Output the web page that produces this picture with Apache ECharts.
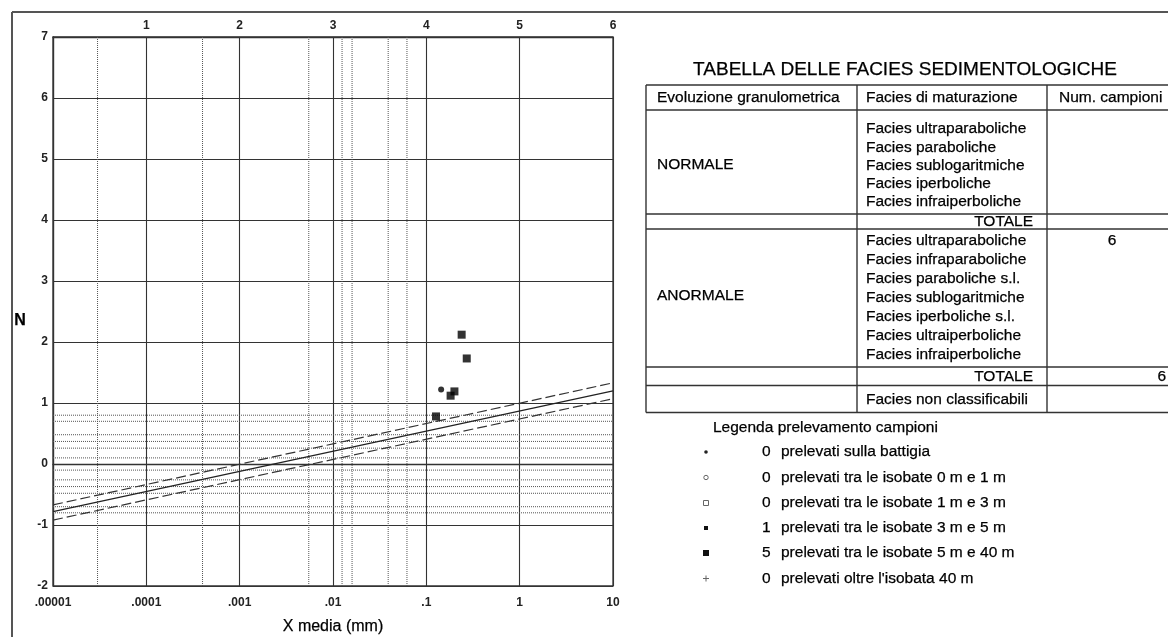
<!DOCTYPE html>
<html><head><meta charset="utf-8">
<script src="https://cdn.jsdelivr.net/npm/echarts@6/dist/echarts.min.js"></script>
<style>html,body{margin:0;padding:0;background:#fff}#c{width:1168px;height:637px}</style>
</head><body><div id="c"></div>
<script>
// ---- data ----
const xTickLabels = ['.00001', '.0001', '.001', '.01', '.1', '1', '10'];
const topTickLabels = ['', '1', '2', '3', '4', '5', '6'];
const xRange = [0.00001, 10];
const yRange = [-2, 7];
const grainLines = [0.00003, 0.0004, 0.0055, 0.0125, 0.016, 0.039, 0.062];
const nLines = [0.8, 0.7, 0.48, 0.37, 0.26, 0.1, -0.1, -0.26, -0.37, -0.48, -0.7, -0.8];
const trendX = [0.00001, 10];
const trendMid = [-0.78, 1.20];
const trendUpper = [-0.67, 1.33];
const trendLower = [-0.92, 1.07];
const samples5to40X = [0.239, 0.271, 0.182, 0.200, 0.127];
const samples5to40N = [2.12, 1.73, 1.12, 1.19, 0.78];
const samples3to5X = [0.144];
const samples3to5N = [1.22];

const tableTitle = 'TABELLA DELLE FACIES SEDIMENTOLOGICHE';
const tableHeaders = ['Evoluzione granulometrica', 'Facies di maturazione', 'Num. campioni'];
const groupNormal = 'NORMALE';
const groupAnormal = 'ANORMALE';
const normalFacies = ['Facies ultraparaboliche', 'Facies paraboliche', 'Facies sublogaritmiche', 'Facies iperboliche', 'Facies infraiperboliche'];
const normalCounts = ['', '', '', '', ''];
const normalTotal = '';
const anormalFacies = ['Facies ultraparaboliche', 'Facies infraparaboliche', 'Facies paraboliche s.l.', 'Facies sublogaritmiche', 'Facies iperboliche s.l.', 'Facies ultraiperboliche', 'Facies infraiperboliche'];
const anormalCounts = ['6', '', '', '', '', '', ''];
const anormalTotal = '6';
const totalLabel = 'TOTALE';
const unclassLabel = 'Facies non classificabili';
const unclassCount = '';

const legendTitle = 'Legenda prelevamento campioni';
const legendCounts = ['0', '0', '0', '1', '5', '0'];
const legendLabels = ['prelevati sulla battigia', 'prelevati tra le isobate 0 m e 1 m', 'prelevati tra le isobate 1 m e 3 m', 'prelevati tra le isobate 3 m e 5 m', 'prelevati tra le isobate 5 m e 40 m', "prelevati oltre l'isobata 40 m"];

// ---- chart ----
const FONT = '"Liberation Sans", Arial, sans-serif';
const ink = '#000';
const chart = echarts.init(document.getElementById('c'));

const decadeIndex = v => Math.round(Math.log10(v)) + 5;

const graphics = [];
// outer frame
graphics.push({type: 'line', shape: {x1: 12, y1: 12, x2: 1170, y2: 12}, style: {stroke: '#555', lineWidth: 2}});
graphics.push({type: 'line', shape: {x1: 12, y1: 12, x2: 12, y2: 640}, style: {stroke: '#555', lineWidth: 2}});

// table
const T = {left: 646, c2: 857, c3: 1047, right: 1200};
const rowY = [85, 110, 214, 229, 367, 385.5, 412.5];
rowY.forEach(y => graphics.push({type: 'line', shape: {x1: T.left, y1: y, x2: T.right, y2: y}, style: {stroke: '#333', lineWidth: 1.4}}));
[T.left, T.c2, T.c3].forEach(x => graphics.push({type: 'line', shape: {x1: x, y1: rowY[0], x2: x, y2: rowY[rowY.length - 1]}, style: {stroke: '#333', lineWidth: 1.4}}));

function txt(text, x, y, size, align, weight) {
  graphics.push({type: 'text', style: {text: text, x: x, y: y, font: (weight ? weight + ' ' : '') + size + 'px ' + FONT, fill: ink, stroke: ink, lineWidth: 0.25, align: align || 'left', verticalAlign: 'middle'}});
}
const FS = 15.5;
txt(tableTitle, 905, 70, 19, 'center');
txt(tableHeaders[0], 657, 97.5, FS);
txt(tableHeaders[1], 866, 97.5, FS);
txt(tableHeaders[2], 1059, 97.5, FS);
txt(groupNormal, 657, 165, FS);
normalFacies.forEach((f, i) => {
  txt(f, 866, 129 + i * 18.3, FS);
  if (normalCounts[i]) txt(normalCounts[i], 1112, 129 + i * 18.3, FS, 'center');
});
txt(totalLabel, 1033, 221.5, FS, 'right');
if (normalTotal) txt(normalTotal, 1165, 221.5, FS, 'right');
txt(groupAnormal, 657, 296, FS);
anormalFacies.forEach((f, i) => {
  txt(f, 866, 241 + i * 18.9, FS);
  if (anormalCounts[i]) txt(anormalCounts[i], 1112, 241 + i * 18.9, FS, 'center');
});
txt(totalLabel, 1033, 376.5, FS, 'right');
txt(anormalTotal, 1166, 376.5, FS, 'right');
txt(unclassLabel, 866, 399.5, FS);
if (unclassCount) txt(unclassCount, 1112, 399.5, FS, 'center');

// legend
txt(legendTitle, 713, 428, FS);
const legY = [452, 477.5, 503, 528, 553, 578.5];
const symX = 706;
legendLabels.forEach((l, i) => {
  txt(legendCounts[i], 762, legY[i], FS);
  txt(l, 781, legY[i], FS);
});
graphics.push({type: 'circle', shape: {cx: symX, cy: legY[0], r: 1.8}, style: {fill: '#222'}});
graphics.push({type: 'circle', shape: {cx: symX, cy: legY[1], r: 2.2}, style: {fill: 'none', stroke: '#666', lineWidth: 1}});
graphics.push({type: 'rect', shape: {x: symX - 2.5, y: legY[2] - 2.5, width: 5, height: 5}, style: {fill: 'none', stroke: '#666', lineWidth: 1}});
graphics.push({type: 'rect', shape: {x: symX - 2, y: legY[3] - 2, width: 4, height: 4}, style: {fill: '#111'}});
graphics.push({type: 'rect', shape: {x: symX - 3, y: legY[4] - 3, width: 6, height: 6}, style: {fill: '#111'}});
graphics.push({type: 'line', shape: {x1: symX - 3, y1: legY[5], x2: symX + 3, y2: legY[5]}, style: {stroke: '#666', lineWidth: 1}});
graphics.push({type: 'line', shape: {x1: symX, y1: legY[5] - 3, x2: symX, y2: legY[5] + 3}, style: {stroke: '#666', lineWidth: 1}});

// axis titles
txt('N', 20, 321, 16, 'center', 'bold');
txt('X media (mm)', 333, 627, 16, 'center');

const pair = (xs, ys) => xs.map((x, i) => [x, ys[i]]);
const tickLabel = {fontFamily: FONT, fontSize: 12, fontWeight: 'bold', color: '#222'};
const dotted = {type: [1, 1], color: '#555', width: 1};

const refSeries = [];
grainLines.forEach(v => refSeries.push({type: 'line', data: [[v, yRange[0]], [v, yRange[1]]], symbol: 'none', silent: true, lineStyle: dotted, z: 1}));
nLines.forEach(v => refSeries.push({type: 'line', data: [[xRange[0], v], [xRange[1], v]], symbol: 'none', silent: true, lineStyle: dotted, z: 1}));

const option = {
  backgroundColor: '#fff',
  animation: false,
  grid: {left: 53, top: 37, width: 560, height: 549, show: true, borderColor: '#333', borderWidth: 1.3, backgroundColor: 'transparent'},
  xAxis: [{
    type: 'log', logBase: 10, min: xRange[0], max: xRange[1], position: 'bottom', splitNumber: 6,
    axisLine: {show: true, lineStyle: {color: '#333', width: 1.3}},
    axisTick: {show: false},
    axisLabel: Object.assign({margin: 11, formatter: v => xTickLabels[decadeIndex(v)] || ''}, tickLabel),
    splitLine: {show: true, lineStyle: {color: '#333', width: 1.1}},
    minorTick: {show: false}, minorSplitLine: {show: false}
  }, {
    type: 'log', logBase: 10, min: xRange[0], max: xRange[1], position: 'top', splitNumber: 6,
    axisLine: {show: true, lineStyle: {color: '#333', width: 1.3}},
    axisTick: {show: false},
    axisLabel: Object.assign({margin: 5, formatter: v => topTickLabels[decadeIndex(v)] || ''}, tickLabel),
    splitLine: {show: false}
  }],
  yAxis: {
    type: 'value', min: yRange[0], max: yRange[1], interval: 1,
    axisLine: {show: true, lineStyle: {color: '#333', width: 1.3}},
    axisTick: {show: false},
    axisLabel: Object.assign({margin: 5}, tickLabel),
    splitLine: {show: true, lineStyle: {color: '#333', width: 1.1}}
  },
  series: refSeries.concat([
    {type: 'line', name: 'mid', data: pair(trendX, trendMid), symbol: 'none', silent: true, lineStyle: {color: '#222', width: 1.3}, z: 3},
    {type: 'line', name: 'upper', data: pair(trendX, trendUpper), symbol: 'none', silent: true, lineStyle: {color: '#333', width: 1.2, type: [10, 4]}, z: 3},
    {type: 'line', name: 'lower', data: pair(trendX, trendLower), symbol: 'none', silent: true, lineStyle: {color: '#333', width: 1.2, type: [10, 4]}, z: 3},
    {type: 'scatter', name: '5-40 m', data: pair(samples5to40X, samples5to40N), symbol: 'rect', symbolSize: 8, itemStyle: {color: '#000'}, z: 5},
    {type: 'scatter', name: '3-5 m', data: pair(samples3to5X, samples3to5N), symbol: 'circle', symbolSize: 6, itemStyle: {color: '#000'}, z: 5}
  ]),
  graphic: graphics
};
chart.setOption(option);
</script>
</body></html>
